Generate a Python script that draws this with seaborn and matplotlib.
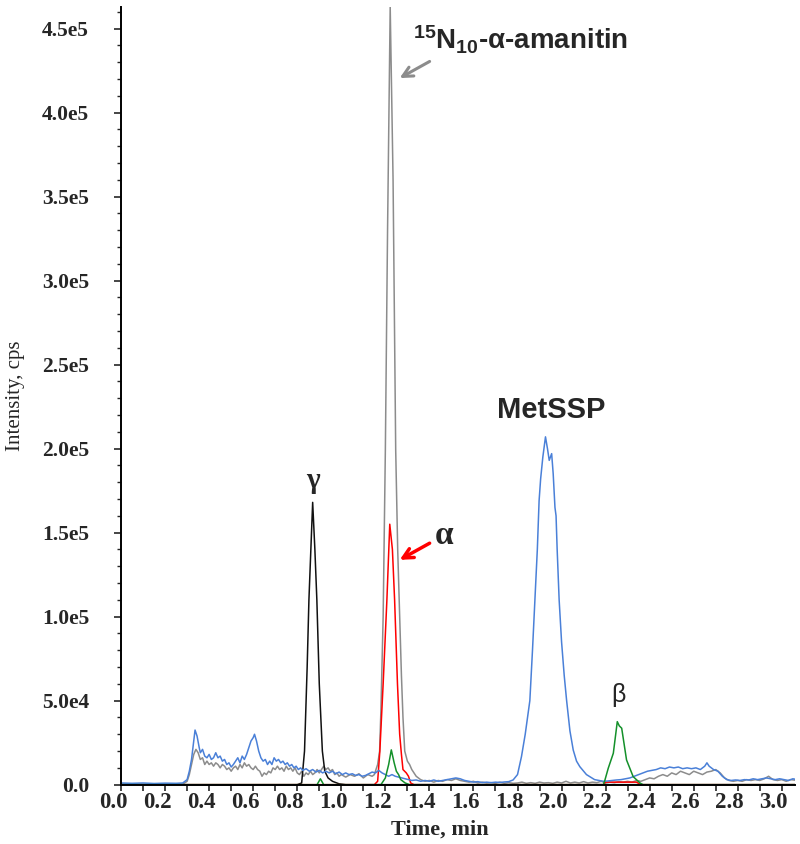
import numpy as np
import pandas as pd
import matplotlib
matplotlib.use("Agg")
import matplotlib.pyplot as plt
import matplotlib.transforms as mtransforms
import seaborn as sns

# =============================================================================
# DATA  (time in min, intensity in kcps = 1e3 cps)
# =============================================================================

# MetSSP channel (blue)
t_metssp = [0.00, 0.05, 0.10, 0.15, 0.20, 0.25, 0.28, 0.30, 0.31, 0.32, 0.33, 0.336,
            0.345, 0.355, 0.36, 0.37, 0.38, 0.39, 0.40, 0.41, 0.42, 0.43, 0.44, 0.45,
            0.46, 0.47, 0.48, 0.49, 0.50, 0.51, 0.52, 0.53, 0.54, 0.55, 0.56, 0.57,
            0.58, 0.59, 0.60, 0.606, 0.615, 0.625, 0.635, 0.645, 0.655, 0.665, 0.675,
            0.685, 0.695, 0.705, 0.715, 0.725, 0.735, 0.745, 0.755, 0.765, 0.775, 0.785,
            0.795, 0.805, 0.815, 0.825, 0.84, 0.855, 0.87, 0.885, 0.90, 0.915, 0.93,
            0.945, 0.96, 0.975, 0.99, 1.005, 1.02, 1.035, 1.05, 1.065, 1.08, 1.095, 1.11,
            1.125, 1.14, 1.155, 1.17, 1.185, 1.20, 1.215, 1.23, 1.245, 1.26, 1.275, 1.29,
            1.305, 1.32, 1.34, 1.36, 1.38, 1.40, 1.42, 1.44, 1.46, 1.48, 1.50, 1.52, 1.54,
            1.56, 1.58, 1.60, 1.62, 1.64, 1.66, 1.68, 1.70, 1.72, 1.74, 1.76,
            1.78, 1.80, 1.818, 1.835, 1.856, 1.868, 1.879, 1.89, 1.898, 1.905, 1.915,
            1.927, 1.936, 1.944, 1.955, 1.962, 1.97, 1.975, 1.98, 1.989, 2.00, 2.012,
            2.023, 2.038, 2.053, 2.068, 2.083, 2.10, 2.113, 2.128,
            2.15, 2.17, 2.19, 2.21, 2.23, 2.25, 2.27, 2.29, 2.31, 2.33, 2.35, 2.37, 2.39,
            2.41, 2.43, 2.45, 2.47, 2.49, 2.51, 2.53, 2.55, 2.57, 2.59, 2.61, 2.63, 2.65,
            2.66, 2.67, 2.69, 2.71, 2.73, 2.75, 2.77, 2.79, 2.81, 2.83, 2.85, 2.87, 2.89,
            2.91, 2.93, 2.95, 2.97, 2.99, 3.01, 3.03, 3.05, 3.07]
i_metssp = [1.0, 0.8, 1.0, 0.7, 0.9, 0.8, 1.0, 3.0, 8.0, 15.0, 26.0, 32.5,
            29.0, 22.0, 19.0, 21.0, 17.0, 16.0, 18.0, 15.0, 16.0, 19.0, 16.0, 17.0,
            14.0, 15.0, 12.0, 13.0, 10.5, 12.0, 14.0, 16.0, 13.0, 17.0, 15.0, 18.0,
            22.0, 26.0, 28.0, 30.0, 26.0, 20.0, 16.0, 14.0, 15.0, 12.0, 14.0,
            12.0, 16.0, 14.0, 15.0, 13.0, 14.0, 12.0, 13.0, 11.0, 12.0, 10.0,
            11.0, 9.0, 10.0, 8.5, 9.5, 8.0, 9.0, 7.5, 8.5, 7.0, 8.0,
            7.0, 8.0, 6.5, 7.5, 6.0, 7.0, 6.0, 6.5, 5.5, 6.0, 5.0, 5.5,
            6.5, 7.5, 7.0, 8.5, 7.0, 6.0, 5.0, 6.0, 5.0, 4.5, 4.0, 3.5,
            3.0, 2.5, 2.8, 2.0, 2.5, 2.0, 2.8, 2.0, 2.5, 3.0, 3.5, 4.0, 3.5,
            2.5, 2.0, 1.5, 1.8, 1.2, 1.5, 1.2, 1.5, 1.3, 1.6, 1.8,
            2.8, 6.0, 16.7, 30.0, 50.0, 80.0, 110.0, 140.0, 169.0, 182.0, 195.0,
            207.0, 200.0, 193.0, 197.0, 185.0, 165.0, 160.0, 140.0, 110.0, 85.0, 65.0,
            50.0, 32.0, 20.6, 14.0, 10.7, 8.0, 6.0, 4.8,
            3.0, 2.5, 2.0, 2.2, 2.5, 2.8, 3.0, 3.5, 4.0, 5.0, 6.0, 7.0, 8.0,
            8.5, 9.0, 10.0, 9.5, 10.5, 10.0, 10.5, 9.5, 10.0, 9.5, 10.0, 9.0, 11.0,
            13.0, 11.0, 9.0, 8.0, 5.0, 3.0, 2.5, 2.8, 2.5, 3.0, 2.8, 3.5, 3.0,
            3.5, 4.0, 3.5, 3.0, 3.5, 3.0, 2.5, 3.5, 3.0]

# 15N10-alpha-amanitin internal standard (grey)
t_is = [0.00, 0.10, 0.20, 0.28, 0.30, 0.31, 0.32, 0.33, 0.34, 0.35, 0.36, 0.37,
        0.38, 0.39, 0.40, 0.41, 0.42, 0.43, 0.44, 0.45, 0.46, 0.47, 0.48, 0.49,
        0.50, 0.51, 0.52, 0.53, 0.54, 0.55, 0.56, 0.57, 0.58, 0.59, 0.60, 0.61,
        0.62, 0.63, 0.64, 0.65, 0.66, 0.67, 0.68, 0.69, 0.70, 0.71, 0.72, 0.73,
        0.74, 0.75, 0.76, 0.77, 0.78, 0.79, 0.80, 0.81, 0.82, 0.83, 0.84, 0.85,
        0.86, 0.87, 0.88, 0.89, 0.90, 0.91, 0.92, 0.93, 0.94, 0.95, 0.96, 0.97,
        0.98, 0.99, 1.00, 1.02, 1.04, 1.06, 1.08, 1.10, 1.12, 1.14, 1.15,
        1.165, 1.174, 1.18, 1.19, 1.20, 1.21, 1.222, 1.235, 1.247, 1.256, 1.265,
        1.273, 1.28, 1.288, 1.30, 1.31, 1.32, 1.34, 1.36,
        1.38, 1.40, 1.42, 1.44, 1.46, 1.48, 1.50, 1.52, 1.54, 1.56, 1.58, 1.60,
        1.62, 1.64, 1.66, 1.68, 1.70, 1.72, 1.74, 1.76, 1.78, 1.80, 1.82, 1.84,
        1.86, 1.88, 1.90, 1.92, 1.94, 1.96, 1.98, 2.00, 2.02, 2.04, 2.06, 2.08,
        2.10, 2.12, 2.14, 2.16, 2.18, 2.20, 2.22, 2.24, 2.26, 2.28, 2.30, 2.32,
        2.34, 2.36, 2.38, 2.40, 2.42, 2.44, 2.46, 2.48, 2.50, 2.52, 2.54, 2.56,
        2.58, 2.60, 2.62, 2.64, 2.66, 2.68, 2.70, 2.72, 2.74, 2.76, 2.78, 2.80,
        2.82, 2.84, 2.86, 2.88, 2.90, 2.92, 2.94, 2.96, 2.98, 3.00, 3.02, 3.04, 3.07]
i_is = [0.3, 0.2, 0.3, 0.3, 2.0, 6.0, 12.0, 18.0, 21.0, 19.0, 15.0, 16.0,
        12.0, 14.0, 12.0, 13.0, 11.0, 13.0, 12.0, 10.0, 12.0, 11.0, 9.0, 10.0,
        8.0, 10.0, 11.0, 9.0, 12.0, 10.0, 13.0, 11.0, 12.0, 10.0, 9.0, 11.0,
        9.0, 8.0, 5.0, 7.0, 6.0, 8.0, 7.0, 10.0, 9.0, 11.0, 9.0, 10.0,
        8.0, 11.0, 9.0, 10.0, 8.0, 10.0, 7.0, 6.0, 8.0, 5.0, 7.0, 6.0,
        8.0, 6.0, 7.0, 9.0, 7.0, 9.0, 11.0, 9.0, 10.0, 8.0, 9.0, 6.0,
        7.0, 5.0, 6.0, 4.5, 6.0, 5.0, 6.5, 4.0, 6.0, 5.0, 6.0,
        12.0, 20.0, 45.0, 100.0, 199.0, 330.0, 463.0, 360.0, 199.0, 140.0, 100.0,
        65.0, 40.0, 20.0, 14.0, 12.0, 9.0, 5.0, 3.0,
        2.0, 2.5, 1.5, 2.5, 2.0, 3.0, 2.5, 3.5, 2.5, 2.0, 1.5, 2.0,
        1.0, 1.5, 1.0, 1.2, 0.8, 1.5, 0.8, 1.2, 0.8, 1.0, 1.5, 0.8,
        1.2, 0.8, 1.5, 1.0, 1.2, 0.8, 1.5, 1.0, 2.0, 1.0, 1.5, 1.0,
        1.8, 1.0, 1.5, 1.2, 2.0, 1.0, 1.5, 1.2, 1.8, 1.5, 2.0, 1.5,
        2.5, 2.0, 3.0, 4.0, 3.5, 5.0, 6.0, 5.0, 7.0, 6.0, 8.0, 7.0,
        6.0, 8.0, 7.0, 6.0, 7.5, 8.0, 9.0, 7.0, 4.0, 2.5, 2.0, 2.5,
        2.0, 3.0, 2.5, 3.0, 2.5, 3.5, 5.0, 3.0, 2.5, 3.0, 2.0, 3.0, 2.5]

# gamma-amanitin (black)
t_gamma = [0.00, 0.80, 0.82, 0.833, 0.845, 0.853, 0.87, 0.88, 0.889, 0.90, 0.914,
           0.925, 0.94, 0.96, 0.99, 1.02, 3.07]
i_gamma = [0.0, 0.0, 1.0, 20.0, 70.0, 110.0, 168.0, 140.0, 110.0, 60.0, 20.0,
           8.0, 4.0, 2.0, 0.5, 0.0, 0.0]

# alpha-amanitin (red)
t_alpha = [0.00, 1.15, 1.165, 1.175, 1.19, 1.207, 1.22, 1.232, 1.242, 1.255, 1.265,
           1.273, 1.28, 1.295, 1.305, 1.315, 1.33, 2.19, 2.20, 2.34, 2.36, 3.07]
i_alpha = [0.0, 0.0, 2.0, 20.0, 60.0, 110.0, 155.0, 140.0, 110.0, 60.0, 30.0,
           18.0, 9.0, 7.0, 5.0, 1.0, 0.0, 0.0, 1.5, 1.5, 0.0, 0.0]

# beta-amanitin (green)
t_beta = [0.00, 0.89, 0.905, 0.92, 1.18, 1.20, 1.215, 1.227, 1.24, 1.25, 1.26,
          1.27, 1.29, 1.31, 2.19, 2.197, 2.212, 2.235, 2.253, 2.262, 2.273, 2.295,
          2.325, 2.356, 2.37, 3.07]
i_beta = [0.0, 0.0, 3.5, 0.0, 0.0, 4.0, 12.0, 20.7, 13.0, 8.0, 6.0,
          3.0, 1.0, 0.0, 0.0, 2.8, 9.8, 18.7, 37.5, 35.0, 33.6, 14.7,
          4.8, 1.0, 0.0, 0.0]

ytick_vals = [0, 50, 100, 150, 200, 250, 300, 350, 400, 450]
ytick_labels = ["0.0", "5.0e4", "1.0e5", "1.5e5", "2.0e5", "2.5e5", "3.0e5",
                "3.5e5", "4.0e5", "4.5e5"]
xtick_vals = [0.0, 0.2, 0.4, 0.6, 0.8, 1.0, 1.2, 1.4, 1.6, 1.8, 2.0, 2.2, 2.4,
              2.6, 2.8, 3.0]
xtick_labels = ["0.0", "0.2", "0.4", "0.6", "0.8", "1.0", "1.2", "1.4", "1.6",
                "1.8", "2.0", "2.2", "2.4", "2.6", "2.8", "3.0"]

# =============================================================================
# PLOT
# =============================================================================

sns.set_style("ticks")
plt.rcParams["mathtext.fontset"] = "custom"
plt.rcParams["mathtext.rm"] = "Liberation Sans:bold"
plt.rcParams["mathtext.it"] = "Liberation Sans:bold"
plt.rcParams["mathtext.bf"] = "Liberation Sans:bold"

fig = plt.figure(figsize=(8.0, 8.44), dpi=100)
ax = fig.add_axes([0.1513, 0.0703, 0.8425, 0.9218])

traces = [
    (t_is, i_is, "#8c8c8c"),
    (t_gamma, i_gamma, "#111111"),
    (t_alpha, i_alpha, "#ff0000"),
    (t_metssp, i_metssp, "#4a80d8"),
    (t_beta, i_beta, "#14902a"),
]
for t, inten, col in traces:
    df = pd.DataFrame({"Time": t, "Intensity": inten})
    sns.lineplot(data=df, x="Time", y="Intensity", color=col, lw=1.1,
                 estimator=None, sort=False, ax=ax)

ax.set_xlim(0, 3.06)
ax.set_ylim(0, 463)

serif = "Liberation Serif"
ax.set_yticks(ytick_vals)
ax.set_yticklabels(ytick_labels, fontfamily=serif, fontweight="bold", fontsize=15.5)
ax.set_yticks(np.arange(0, 463, 10), minor=True)
ax.set_xticks(xtick_vals)
ax.set_xticklabels(xtick_labels, fontfamily=serif, fontweight="bold", fontsize=16.5)
ax.set_xticks(np.arange(0.1, 3.06, 0.2), minor=True)

ax.tick_params(axis="y", which="major", direction="out", length=5, width=1.2, pad=18)
ax.tick_params(axis="y", which="minor", direction="out", length=3, width=1.0)
ax.tick_params(axis="x", which="both", direction="out", length=4, width=1.2, pad=1)

# tick labels on the x axis sit a little left of their ticks in the original
offset = mtransforms.ScaledTranslation(-8 / 100, 0, fig.dpi_scale_trans)
for lab in ax.get_xticklabels():
    lab.set_transform(lab.get_transform() + offset)

sns.despine(ax=ax)
for side in ["left", "bottom"]:
    ax.spines[side].set_linewidth(1.4)
    ax.spines[side].set_color("black")

ax.set_xlabel("Time, min", fontfamily=serif, fontweight="bold", fontsize=16)
ax.set_ylabel("Intensity, cps", fontfamily=serif, fontsize=15)
ax.xaxis.set_label_coords(0.473, -0.045)
ax.yaxis.set_label_coords(-0.143, 0.5)

# peak labels
ax.text(0.87, 181, "γ", fontfamily=serif, fontweight="bold", fontsize=21,
        ha="center", va="center")
ax.text(1.465, 148, "α", fontfamily=serif, fontweight="bold", fontsize=24,
        ha="center", va="center")
ax.text(1.954, 223, "MetSSP", fontfamily="Liberation Sans", fontweight="bold",
        fontsize=21, ha="center", va="center")
ax.text(2.26, 53.4, "β", fontfamily="Liberation Sans", fontsize=18,
        ha="center", va="center")
ax.text(1.327, 437.3, r"$^{15}$N$_{10}$-α-amanitin", fontfamily="Liberation Sans",
        fontweight="bold", fontsize=20, ha="left", va="baseline")

ax.annotate("", xy=(1.265, 133.8), xytext=(1.401, 143.7),
            arrowprops=dict(arrowstyle="->", color="#ff0000", lw=2.5,
                            mutation_scale=18, shrinkA=0, shrinkB=0))
ax.annotate("", xy=(1.265, 420.5), xytext=(1.401, 430.4),
            arrowprops=dict(arrowstyle="->", color="#8c8c8c", lw=2.2,
                            mutation_scale=18, shrinkA=0, shrinkB=0))

fig.savefig("out.png", dpi=100)
